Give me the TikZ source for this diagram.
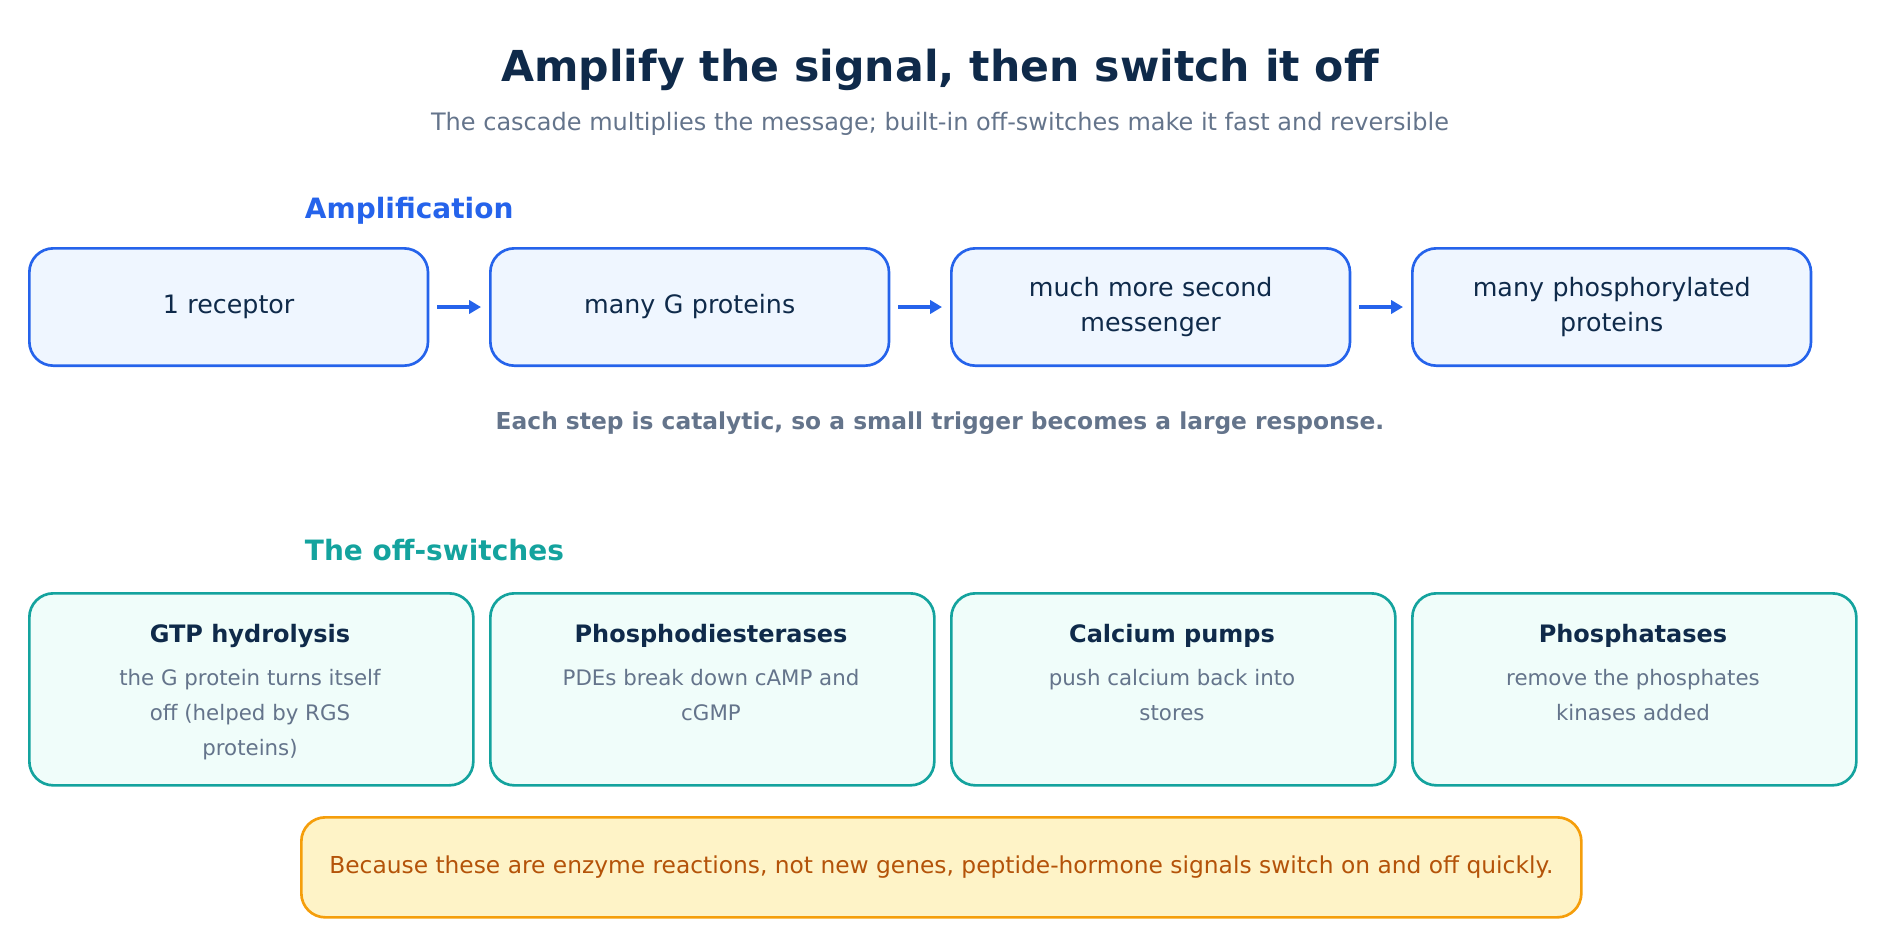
\documentclass[tikz,border=0pt]{standalone}
\usepackage{fontspec}
\setmainfont{DejaVu Sans}
\usetikzlibrary{arrows.meta}
\definecolor{ink}{HTML}{0F2A4A}
\definecolor{muted}{HTML}{64748B}
\definecolor{blueln}{HTML}{2563EB}
\definecolor{bluefl}{HTML}{EFF6FF}
\definecolor{tealln}{HTML}{14A39E}
\definecolor{tealfl}{HTML}{F0FDFA}
\definecolor{amberln}{HTML}{F59E0B}
\definecolor{amberfl}{HTML}{FEF3C7}
\definecolor{ambertx}{HTML}{B45309}
\tikzset{every picture/.style={line width=0.75pt}}
\tikzset{
  stepbox/.style={draw=blueln,fill=bluefl,rounded corners=18pt,line width=2pt,minimum width=299pt,minimum height=88pt,anchor=north west,align=center,text=ink,font=\fontsize{19}{26}\selectfont,text width=280pt},
  offbox/.style={draw=tealln,fill=tealfl,rounded corners=18pt,line width=2pt,minimum width=333pt,minimum height=144pt,anchor=north west},
  flow/.style={draw=blueln,line width=3pt,-{Triangle[length=9pt,width=10pt]}},
}
\begin{document}
\begin{tikzpicture}[x=0.75pt,y=0.75pt,yscale=-1,xscale=1]
\useasboundingbox (0,0) rectangle (1880,940);
% Titles
\node (title) at (940,70) [text=ink,font=\bfseries\fontsize{32}{38}\selectfont] {Amplify the signal, then switch it off};
\node (sub) at (940,124) [text=muted,font=\fontsize{18}{22}\selectfont] {The cascade multiplies the message; built-in off-switches make it fast and reversible};
% Amplification row
\node (amp) at (300,211) [anchor=west,text=blueln,font=\bfseries\fontsize{21}{26}\selectfont] {Amplification};
\node (s1) at (28,247) [stepbox] {1 receptor};
\node (s2) at (489,247) [stepbox] {many G proteins};
\node (s3) at (950,247) [stepbox] {much more second\\messenger};
\node (s4) at (1411,247) [stepbox] {many phosphorylated\\proteins};
\foreach \a/\b in {s1/s2,s2/s3,s3/s4}
  \draw [flow] ([xshift=6]\a.east) -- ([xshift=-6]\b.west);
\node (note) at (940,423) [text=muted,font=\bfseries\fontsize{17.5}{22}\selectfont] {Each step is catalytic, so a small trigger becomes a large response.};
% Off-switch row
\node (off) at (300,550) [anchor=west,text=tealln,font=\bfseries\fontsize{21}{26}\selectfont] {The off-switches};
\foreach \n/\x/\c/\h/\d in {o1/28/250/GTP hydrolysis/{the G protein turns itself\\off (helped by RGS\\proteins)},
  o2/489/711/Phosphodiesterases/{PDEs break down cAMP and\\cGMP},
  o3/950/1172/Calcium pumps/{push calcium back into\\stores},
  o4/1411/1633/Phosphatases/{remove the phosphates\\kinases added}}{
  \node (\n) at (\x,592) [offbox] {};
  \node (\n h) at (\c,636) [text=ink,font=\bfseries\fontsize{18}{22}\selectfont] {\h};
  \node (\n d) at (\c,664) [anchor=north,align=center,text=muted,font=\fontsize{16}{26.25}\selectfont] {\d};
}
% Bottom note
\node (key) at (300,816) [draw=amberln,fill=amberfl,rounded corners=18pt,line width=2pt,minimum width=960pt,minimum height=75pt,anchor=north west] {};
\node (keytx) at (key.center) [text=ambertx,font=\fontsize{17.5}{22}\selectfont] {Because these are enzyme reactions, not new genes, peptide-hormone signals switch on and off quickly.};
\end{tikzpicture}
\end{document}
